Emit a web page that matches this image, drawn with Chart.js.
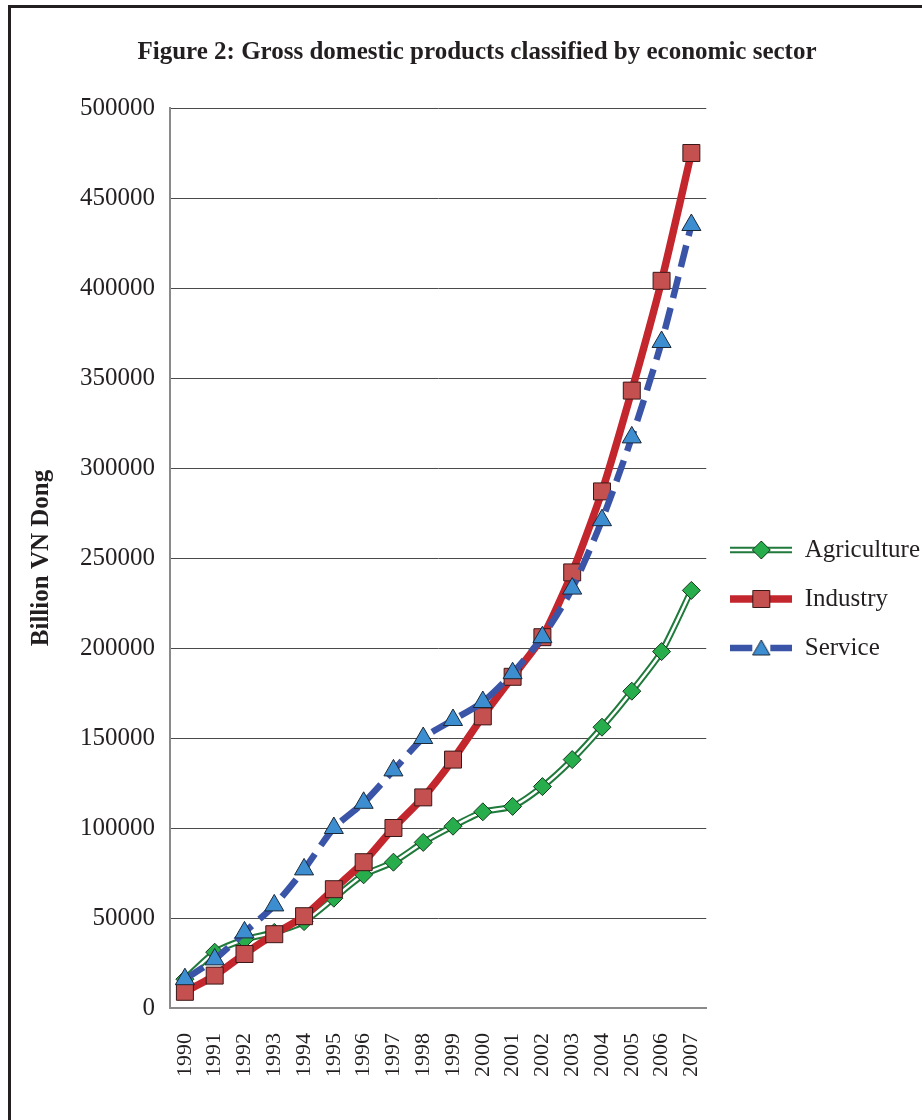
<!DOCTYPE html>
<html>
<head>
<meta charset="utf-8">
<script src="https://cdn.jsdelivr.net/npm/chart.js@4/dist/chart.umd.min.js"></script>
<style>
  html, body { margin: 0; padding: 0; background: #ffffff; overflow: hidden; }
  #frame {
    position: absolute; left: 8px; top: 5px; width: 2000px; height: 2000px;
    border-left: 3px solid #231f20; border-top: 3px solid #231f20;
  }
  #chart { position: absolute; left: 0; top: 0; }
</style>
</head>
<body>
<div id="frame"></div>
<canvas id="chart" width="922" height="1120"></canvas>
<script>
// Gross domestic product by economic sector, billion VN Dong
const years = ['1990','1991','1992','1993','1994','1995','1996','1997','1998',
               '1999','2000','2001','2002','2003','2004','2005','2006','2007'];
const agriculture = [16000, 31000, 38000, 42000, 48000, 61000, 74000, 81000, 92000,
                     101000, 109000, 112000, 123000, 138000, 156000, 176000, 198000, 232000];
const industry = [9000, 18000, 30000, 41000, 51000, 66000, 81000, 100000, 117000,
                  138000, 162000, 184000, 206000, 242000, 287000, 343000, 404000, 475000];
const service = [16000, 27000, 42000, 57000, 77000, 100000, 114000, 132000, 150000,
                 160000, 170000, 186000, 206000, 233000, 271000, 317000, 370000, 435000];
const yTicks = [0, 50000, 100000, 150000, 200000, 250000, 300000, 350000, 400000, 450000, 500000];

const SERIF = "'Liberation Serif', 'Times New Roman', serif";
const INK = '#231f20';

const style = {
  agri:  { line: '#1f7a3b', inner: '#ffffff', fill: '#27ad4b', edge: '#163a20' },
  ind:   { line: '#c3262c', fill: '#c4504f', edge: '#3b1818' },
  serv:  { line: '#3a55a7', fill: '#3d8ed1', edge: '#1b2838' }
};
const tension = 0.22;

// Legend swatch: a short piece of the series line with its marker in the middle
function swatch(kind) {
  const c = document.createElement('canvas');
  c.width = 62; c.height = 26;
  const g = c.getContext('2d');
  const cy = 13, cx = 31;
  if (kind === 'agri') {
    g.strokeStyle = style.agri.line; g.lineWidth = 6.5;
    g.beginPath(); g.moveTo(0, cy); g.lineTo(62, cy); g.stroke();
    g.strokeStyle = style.agri.inner; g.lineWidth = 2.5;
    g.beginPath(); g.moveTo(0, cy); g.lineTo(62, cy); g.stroke();
    g.fillStyle = style.agri.fill; g.strokeStyle = style.agri.edge; g.lineWidth = 1;
    Chart.helpers.drawPoint(g, { pointStyle: 'rectRot', radius: 9, borderWidth: 1, rotation: 0 }, cx, cy);
  } else if (kind === 'ind') {
    g.strokeStyle = style.ind.line; g.lineWidth = 7.5;
    g.beginPath(); g.moveTo(0, cy); g.lineTo(62, cy); g.stroke();
    g.fillStyle = style.ind.fill; g.strokeStyle = style.ind.edge; g.lineWidth = 1;
    Chart.helpers.drawPoint(g, { pointStyle: 'rect', radius: 12, borderWidth: 1, rotation: 0 }, cx, cy);
  } else {
    g.strokeStyle = style.serv.line; g.lineWidth = 6.5;
    g.beginPath(); g.moveTo(0, cy); g.lineTo(22, cy); g.moveTo(40, cy); g.lineTo(62, cy); g.stroke();
    g.fillStyle = style.serv.fill; g.strokeStyle = style.serv.edge; g.lineWidth = 1;
    Chart.helpers.drawPoint(g, { pointStyle: 'triangle', radius: 10, borderWidth: 1, rotation: 0 }, cx, cy + 2);
  }
  return c;
}

const legendEntries = [
  { text: 'Agriculture', kind: 'agri', datasetIndex: 0 },
  { text: 'Industry', kind: 'ind', datasetIndex: 2 },
  { text: 'Service', kind: 'serv', datasetIndex: 3 }
];

new Chart(document.getElementById('chart'), {
  type: 'line',
  data: {
    labels: years,
    datasets: [
      { // agriculture: light core of the double line, with the diamond markers
        label: 'Agriculture', data: agriculture, order: 3, tension,
        borderColor: style.agri.inner, borderWidth: 2.5,
        pointStyle: 'rectRot', pointRadius: 9, pointBorderWidth: 1,
        pointBackgroundColor: style.agri.fill, pointBorderColor: style.agri.edge
      },
      { // agriculture: dark outer stroke of the double line
        label: 'Agriculture', data: agriculture, order: 4, tension,
        borderColor: style.agri.line, borderWidth: 6.5, pointRadius: 0
      },
      {
        label: 'Industry', data: industry, order: 2, tension,
        borderColor: style.ind.line, borderWidth: 7.5,
        pointStyle: 'rect', pointRadius: 12, pointBorderWidth: 1,
        pointBackgroundColor: style.ind.fill, pointBorderColor: style.ind.edge
      },
      {
        label: 'Service', data: service, order: 1, tension,
        borderColor: style.serv.line, borderWidth: 6.5, borderDash: [22, 10],
        pointStyle: 'triangle', pointRadius: 11, pointBorderWidth: 1,
        pointBackgroundColor: style.serv.fill, pointBorderColor: style.serv.edge
      }
    ]
  },
  options: {
    responsive: false,
    animation: false,
    devicePixelRatio: 1,
    layout: { padding: { left: 24, right: -8, top: 0, bottom: 0 } },
    plugins: {
      tooltip: { enabled: false },
      title: {
        display: true,
        text: 'Figure 2: Gross domestic products classified by economic sector',
        color: INK,
        font: { family: SERIF, size: 25, weight: 'bold' },
        padding: { top: 38, bottom: 40 }
      },
      legend: {
        display: true,
        position: 'right',
        fullSize: false,
        title: { display: true, text: '', font: { size: 10 }, padding: { top: 70, bottom: 0 } },
        labels: {
          usePointStyle: true,
          pointStyleWidth: 62,
          padding: 24,
          color: INK,
          font: { family: SERIF, size: 25 },
          generateLabels: () => legendEntries.map(e => ({
            text: e.text,
            pointStyle: swatch(e.kind),
            fillStyle: 'transparent',
            strokeStyle: 'transparent',
            lineWidth: 0,
            hidden: false,
            datasetIndex: e.datasetIndex,
            fontColor: INK
          }))
        }
      }
    },
    scales: {
      x: {
        offset: true,
        grid: { display: false, drawTicks: false },
        border: { display: true, color: '#8a8a8a', width: 2 },
        ticks: {
          color: INK, minRotation: 90, maxRotation: 90, padding: 25, autoSkip: false,
          font: { family: SERIF, size: 22 }
        },
        afterFit: s => { s.height = 112; }
      },
      y: {
        min: 0, max: 500000,
        afterBuildTicks: s => { s.ticks = yTicks.map(v => ({ value: v })); },
        grid: { color: '#4a4a4a', lineWidth: 1, drawTicks: false },
        border: { display: true, color: '#8a8a8a', width: 2 },
        ticks: {
          color: INK, padding: 15,
          font: { family: SERIF, size: 25 },
          callback: v => String(v)
        },
        title: {
          display: true, text: 'Billion VN Dong', color: INK,
          font: { family: SERIF, size: 25, weight: 'bold' },
          padding: { top: 3, bottom: 0 }
        },
        afterFit: s => { s.width = 146; }
      }
    }
  }
});
</script>
</body>
</html>
